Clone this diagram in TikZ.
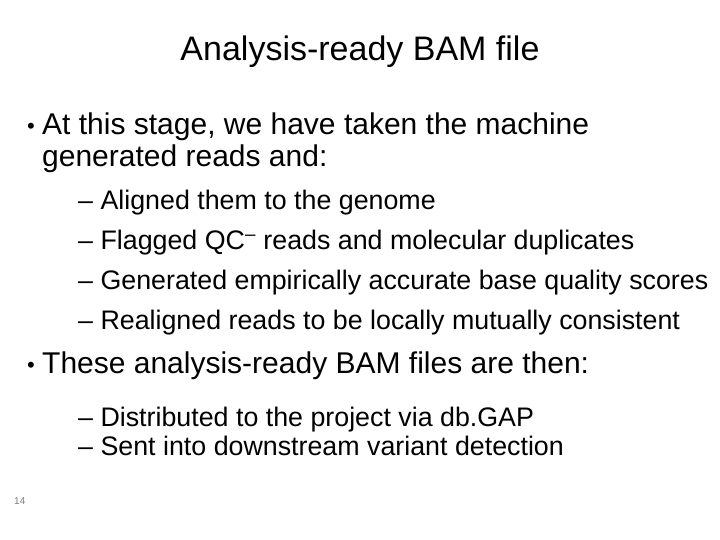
\documentclass[tikz,border=0pt]{standalone}
\usepackage{fontspec}
\setmainfont{Liberation Sans}
\begin{document}
\begin{tikzpicture}[x=1pt,y=-1pt,
    title/.style={font=\fontsize{34}{38}\selectfont},
    dot/.style={anchor=center,inner sep=0pt,font=\fontsize{22}{26}\selectfont},
    bul/.style={anchor=west,inner sep=0pt,font=\fontsize{30}{34}\selectfont},
    sub/.style={anchor=west,inner sep=0pt,font=\fontsize{26.8}{30}\selectfont}]
    \useasboundingbox (0,0) rectangle (720,540);
    \node[title] (title) at (360,52) {Analysis-ready BAM file};

    \node[dot] (d1) at (31,128) {\textbullet};
    \node[bul] (b1) at (42,127) {At this stage, we have taken the machine};
    \node[bul] (b1b) at (42,159) {generated reads and:};
    \node[sub] (s1) at (78,203) {– Aligned them to the genome};
    \node[sub] (s2) at (78,243) {– Flagged QC\textsuperscript{–} reads and molecular duplicates};
    \node[sub] (s3) at (78,283) {– Generated empirically accurate base quality scores};
    \node[sub] (s4) at (78,323) {– Realigned reads to be locally mutually consistent};

    \node[dot] (d2) at (31,367) {\textbullet};
    \node[bul] (b2) at (42,366) {These analysis-ready BAM files are then:};
    \node[sub] (s5) at (78,420) {– Distributed to the project via db.GAP};
    \node[sub] (s6) at (78,446) {– Sent into downstream variant detection};

    \node[anchor=west,inner sep=0pt,font=\fontsize{10}{11}\selectfont,gray] (page) at (14,501) {14};
\end{tikzpicture}
\end{document}
